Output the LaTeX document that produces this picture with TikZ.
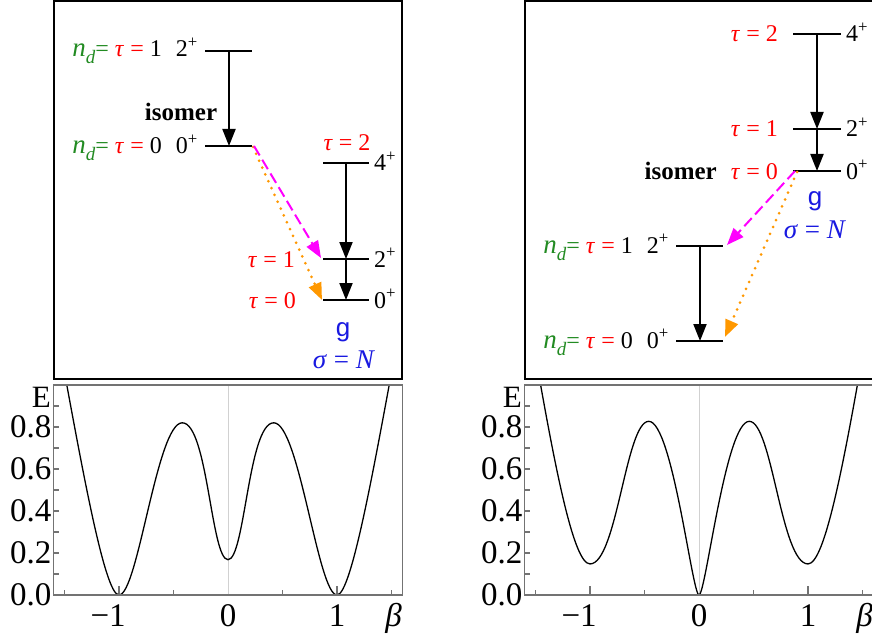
\documentclass[tikz,border=0pt]{standalone}
\usepackage{fontspec}
\setmainfont{Liberation Serif}
\newfontfamily\sansg{Liberation Sans}
\usetikzlibrary{arrows.meta}
\definecolor{tred}{RGB}{255,0,0}
\definecolor{tgreen}{RGB}{34,139,34}
\definecolor{tblue}{RGB}{25,25,225}
\definecolor{tmag}{RGB}{255,0,255}
\definecolor{torange}{RGB}{255,152,0}
\definecolor{framegray}{gray}{0.45}
\newcommand{\ndeq}{{\color{tgreen}{\fontsize{27}{27}\selectfont\itshape n}\raisebox{-7pt}{\fontsize{19}{19}\selectfont\itshape d}=}}
\newcommand{\taulab}[1]{{\color{tred}\textit{τ} = #1}}
\newcommand{\taueq}{{\color{tred}\textit{τ} =}}
\newcommand{\plus}{\textsuperscript{+}}
\tikzset{
  lbl/.style={inner sep=0pt, font=\fontsize{24}{24}\selectfont},
  isolbl/.style={inner sep=0pt, font=\fontsize{25}{25}\selectfont\bfseries},
  glbl/.style={inner sep=0pt, text=tblue, font=\fontsize{26}{26}\selectfont\sansg},
  siglbl/.style={inner sep=0pt, text=tblue, font=\fontsize{27}{27}\selectfont},
  biglbl/.style={inner sep=0pt, font=\fontsize{33}{33}\selectfont},
  elbl/.style={inner sep=0pt, font=\fontsize{31}{31}\selectfont},
  lev/.style={line width=2pt},
  trans/.style={line width=2pt, -{Triangle[length=17pt,width=13pt]}},
  magtr/.style={trans, color=tmag, dash pattern=on 11pt off 5pt},
  ortr/.style={line width=3pt, color=torange, line cap=round, dash pattern=on 0pt off 7.5pt, -{Triangle[length=17pt,width=13pt]}},
  framel/.style={framegray, line width=1.3pt},
  boxl/.style={black, line width=2pt},
  curve/.style={black, line width=1.3pt},
  zerol/.style={black!18, line width=0.7pt},
  tickl/.style={framegray, line width=1.1pt}
}
\begin{document}
\begin{tikzpicture}[x=1pt,y=-1pt]
\useasboundingbox (0,0) rectangle (872,639);
\fill[white] (0,0) rectangle (872,639);

% ================= LEFT LEVEL SCHEME =================
\draw[boxl] (54,1) rectangle (402,379);
\coordinate (LaA) at (205,51);  \coordinate (LaB) at (252,51);
\coordinate (LbA) at (205,146); \coordinate (LbB) at (252,146);
\coordinate (LcA) at (323,163); \coordinate (LcB) at (369,163);
\coordinate (LdA) at (323,259); \coordinate (LdB) at (369,259);
\coordinate (LeA) at (323,300); \coordinate (LeB) at (369,300);
\foreach \p in {La,Lb,Lc,Ld,Le} \draw[lev] (\p A) -- (\p B);
\coordinate (La1) at (229,51);  \coordinate (Lb1) at (229,146);
\coordinate (Lc1) at (346,163); \coordinate (Ld1) at (346,259); \coordinate (Le1) at (346,300);
\draw[trans] (La1) -- (Lb1);
\draw[trans] (Lc1) -- (Ld1);
\draw[trans] (Ld1) -- (Le1);
\coordinate (LmS) at (254,146); \coordinate (LmE) at (321,258);
\coordinate (LoS) at (253,147); \coordinate (LoE) at (322,300);
\draw[ortr] (LoS) -- (LoE);
\draw[magtr] (LmS) -- (LmE);
\node[lbl, anchor=base east] (tLa) at (198,57) {\ndeq\ \taueq\ 1\hspace{14pt}2\plus};
\node[lbl, anchor=base east] (tLb) at (198,154) {\ndeq\ \taueq\ 0\hspace{14pt}0\plus};
\node[isolbl, anchor=base] (tLiso) at (181,121) {isomer};
\node[lbl, anchor=base] (tLt2) at (347,151) {\taulab{2}};
\node[lbl, anchor=base west] (tLc) at (374,171) {4\plus};
\node[lbl, anchor=base west] (tLd) at (374,267) {2\plus};
\node[lbl, anchor=base west] (tLe) at (374,308) {0\plus};
\node[lbl, anchor=base east] (tLt1) at (295,267) {\taulab{1}};
\node[lbl, anchor=base east] (tLt0) at (296,308) {\taulab{0}};
\node[glbl, anchor=base] (tLg) at (343,336) {g};
\node[siglbl, anchor=base] (tLs) at (344,368) {\textit{σ} = \textit{N}};

% ================= RIGHT LEVEL SCHEME =================
\draw[boxl] (525,1) rectangle (890,379);
\coordinate (RaA) at (793,34);  \coordinate (RaB) at (841,34);
\coordinate (RbA) at (793,129); \coordinate (RbB) at (841,129);
\coordinate (RcA) at (793,171); \coordinate (RcB) at (841,171);
\coordinate (RdA) at (676,246); \coordinate (RdB) at (723,246);
\coordinate (ReA) at (676,341); \coordinate (ReB) at (723,341);
\foreach \p in {Ra,Rb,Rc,Rd,Re} \draw[lev] (\p A) -- (\p B);
\coordinate (Ra1) at (817,34); \coordinate (Rb1) at (817,129); \coordinate (Rc1) at (817,171);
\coordinate (Rd1) at (700,246); \coordinate (Re1) at (700,341);
\draw[trans] (Ra1) -- (Rb1);
\draw[trans] (Rb1) -- (Rc1);
\draw[trans] (Rd1) -- (Re1);
\coordinate (RmS) at (795,171); \coordinate (RmE) at (727,245);
\coordinate (RoS) at (797,172); \coordinate (RoE) at (725,337);
\draw[ortr] (RoS) -- (RoE);
\draw[magtr] (RmS) -- (RmE);
\node[lbl, anchor=base east] (tRt2) at (778,42) {\taulab{2}};
\node[lbl, anchor=base east] (tRt1) at (778,137) {\taulab{1}};
\node[lbl, anchor=base east] (tRt0) at (778,179) {\taulab{0}};
\node[isolbl, anchor=base east] (tRiso) at (717,179) {isomer};
\node[lbl, anchor=base west] (tRa) at (846,42) {4\plus};
\node[lbl, anchor=base west] (tRb) at (846,137) {2\plus};
\node[lbl, anchor=base west] (tRc) at (846,179) {0\plus};
\node[lbl, anchor=base east] (tRd) at (669,253) {\ndeq\ \taueq\ 1\hspace{14pt}2\plus};
\node[lbl, anchor=base east] (tRe) at (669,348) {\ndeq\ \taueq\ 0\hspace{14pt}0\plus};
\node[glbl, anchor=base] (tRg) at (815,205) {g};
\node[siglbl, anchor=base] (tRs) at (815,238) {\textit{σ} = \textit{N}};

% ================= LEFT PLOT =================
\node[elbl, anchor=base east] (ELl) at (51,407) {E};
\begin{scope}[shift={(228,595)}, x=109pt, y=210pt]
  \draw[zerol] (0,0) -- (0,1);
  \foreach \e in {0.1,0.2,...,0.95} \draw[tickl] (-1.6,\e) -- ++(5pt,0);
  \foreach \b in {-1.5,-0.5,0.5,1.5} \draw[tickl] (\b,0) -- ++(0,5pt);
  \foreach \b in {-1,1} \draw[tickl] (\b,0) -- ++(0,9pt);
  \foreach \e/\t [count=\i] in {0/0.0,0.2/0.2,0.4/0.4,0.6/0.6,0.8/0.8}
    \node[biglbl, anchor=east] (ylL\i) at ([xshift=-2pt]-1.6,\e) {\t};
  \node[biglbl, anchor=base] (xlLa) at ([yshift=-31pt]-1.1,0) {−1};
  \node[biglbl, anchor=base] (xlLb) at ([yshift=-31pt]0,0) {0};
  \node[biglbl, anchor=base] (xlLc) at ([yshift=-31pt]1,0) {1};
  \node[biglbl, anchor=base] (xlLd) at ([yshift=-31pt]1.52,0) {\textit{β}};
  \begin{scope}
    \clip (-1.6,0) rectangle (1.6,1);
    \draw[curve] (-1.55,1.2) .. controls (-1.35,0.64) and (-1.135,0) .. (-1,0)
      .. controls (-0.826,0) and (-0.652,0.82) .. (-0.42,0.82)
      .. controls (-0.187,0.82) and (-0.155,0.168) .. (0,0.168)
      .. controls (0.155,0.168) and (0.187,0.82) .. (0.42,0.82)
      .. controls (0.652,0.82) and (0.826,0) .. (1,0)
      .. controls (1.135,0) and (1.35,0.64) .. (1.55,1.2);
  \end{scope}
  \draw[framel] (-1.6,0) rectangle (1.6,1);
\end{scope}

% ================= RIGHT PLOT =================
\node[elbl, anchor=base east] (ELr) at (522,407) {E};
\begin{scope}[shift={(699,595)}, x=109pt, y=210pt]
  \draw[zerol] (0,0) -- (0,1);
  \foreach \e in {0.1,0.2,...,0.95} \draw[tickl] (-1.6,\e) -- ++(5pt,0);
  \foreach \b in {-1.5,-0.5,0.5,1.5} \draw[tickl] (\b,0) -- ++(0,5pt);
  \foreach \b in {-1,1} \draw[tickl] (\b,0) -- ++(0,9pt);
  \foreach \e/\t [count=\i] in {0/0.0,0.2/0.2,0.4/0.4,0.6/0.6,0.8/0.8}
    \node[biglbl, anchor=east] (ylR\i) at ([xshift=-2pt]-1.6,\e) {\t};
  \node[biglbl, anchor=base] (xlRa) at ([yshift=-31pt]-1.1,0) {−1};
  \node[biglbl, anchor=base] (xlRb) at ([yshift=-31pt]0,0) {0};
  \node[biglbl, anchor=base] (xlRc) at ([yshift=-31pt]1,0) {1};
  \node[biglbl, anchor=base] (xlRd) at ([yshift=-31pt]1.52,0) {\textit{β}};
  \begin{scope}
    \clip (-1.6,0) rectangle (1.6,1);
    \draw[curve] (-1.52,1.198) .. controls (-1.32,0.598) and (-1.15,0.148) .. (-1,0.148)
      .. controls (-0.754,0.148) and (-0.671,0.827) .. (-0.461,0.827)
      .. controls (-0.244,0.827) and (-0.062,0) .. (0,0)
      .. controls (0.062,0) and (0.244,0.827) .. (0.461,0.827)
      .. controls (0.671,0.827) and (0.754,0.148) .. (1,0.148)
      .. controls (1.15,0.148) and (1.32,0.598) .. (1.52,1.198);
  \end{scope}
  \draw[framel] (-1.6,0) rectangle (1.6,1);
\end{scope}
\end{tikzpicture}
\end{document}
